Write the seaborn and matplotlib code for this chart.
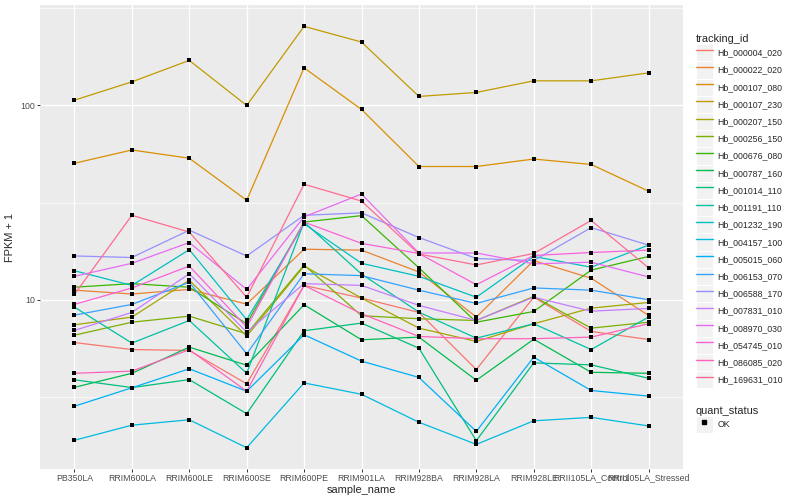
import pandas as pd
import matplotlib
matplotlib.use('Agg')
import matplotlib.pyplot as plt
import seaborn as sns
from matplotlib.lines import Line2D
from matplotlib.patches import Rectangle
from matplotlib.legend_handler import HandlerTuple
from matplotlib.ticker import FixedLocator, NullFormatter

# samples on the x axis
samples = ['PB350LA', 'RRIM600LA', 'RRIM600LE', 'RRIM600SE', 'RRIM600PE', 'RRIM901LA',
           'RRIM928BA', 'RRIM928LA', 'RRIM928LE', 'RRII105LA_Control', 'RRII105LA_Stressed']

tracking_ids = ['Hb_000004_020', 'Hb_000022_020', 'Hb_000107_080', 'Hb_000107_230',
                'Hb_000207_150', 'Hb_000256_150', 'Hb_000676_080', 'Hb_000787_160',
                'Hb_001014_110', 'Hb_001191_110', 'Hb_001232_190', 'Hb_004157_100',
                'Hb_005015_060', 'Hb_006153_070', 'Hb_006588_170', 'Hb_007831_010',
                'Hb_008970_030', 'Hb_054745_010', 'Hb_086085_020', 'Hb_169631_010']

# FPKM + 1 per gene, one value per sample
hb_000004_020 = [6.02, 5.54, 5.48, 3.69, 11.85, 10.2, 8.60, 4.37, 10.3, 6.87, 6.24]
hb_000022_020 = [11.2, 10.7, 11.3, 9.49, 18.2, 18.0, 13.9, 8.14, 15.9, 12.9, 8.30]
hb_000107_080 = [50.4, 59.0, 53.5, 32.5, 156.2, 95.4, 48.5, 48.5, 53.0, 49.7, 36.2]
hb_000107_230 = [106.5, 132.3, 170.6, 100.0, 255.4, 212.1, 111.3, 116.7, 133.9, 133.9, 147.2]
hb_000207_150 = [7.43, 8.14, 12.6, 6.49, 14.9, 10.2, 7.14, 6.10, 7.52, 9.05, 9.68]
hb_000256_150 = [6.57, 7.66, 8.23, 6.68, 15.1, 8.27, 7.98, 7.82, 10.4, 7.14, 7.66]
hb_000676_080 = [11.6, 12.1, 11.6, 7.52, 25.1, 27.1, 14.6, 7.66, 8.70, 14.2, 16.7]
hb_000787_160 = [3.54, 4.18, 5.70, 4.60, 9.42, 6.22, 6.42, 3.85, 6.26, 4.23, 4.18]
hb_001014_110 = [3.87, 3.53, 3.88, 2.59, 6.92, 7.58, 5.63, 1.88, 4.73, 4.62, 3.94]
hb_001191_110 = [9.16, 5.98, 7.82, 4.18, 25.1, 13.55, 8.63, 6.34, 7.52, 5.54, 8.14]
hb_001232_190 = [14.1, 11.85, 18.1, 7.89, 24.6, 15.4, 13.2, 10.3, 16.7, 14.7, 19.1]
hb_004157_100 = [1.89, 2.26, 2.41, 1.73, 3.73, 3.26, 2.34, 1.80, 2.38, 2.48, 2.24]
hb_005015_060 = [2.83, 3.52, 4.41, 3.38, 6.60, 4.83, 3.98, 2.10, 5.06, 3.41, 3.19]
hb_006153_070 = [8.33, 9.46, 12.3, 5.27, 13.6, 13.3, 11.2, 9.57, 11.5, 11.2, 10.0]
hb_006588_170 = [16.8, 16.5, 22.8, 16.8, 27.2, 28.0, 20.9, 16.3, 15.9, 23.5, 19.1]
hb_007831_010 = [6.95, 8.60, 13.6, 6.81, 12.1, 11.85, 9.35, 7.82, 10.3, 8.73, 9.02]
hb_008970_030 = [13.2, 15.4, 19.7, 11.3, 26.7, 35.0, 17.4, 17.4, 15.3, 15.6, 13.1]
hb_054745_010 = [9.46, 11.5, 14.9, 7.23, 25.1, 19.5, 17.3, 11.95, 16.9, 17.5, 18.0]
hb_086085_020 = [4.18, 4.29, 5.53, 3.38, 11.85, 8.47, 6.47, 6.30, 6.30, 6.42, 7.52]
hb_169631_010 = [10.65, 27.2, 22.3, 10.3, 39.3, 32.2, 17.2, 15.1, 17.3, 25.6, 14.6]

series = [hb_000004_020, hb_000022_020, hb_000107_080, hb_000107_230, hb_000207_150,
          hb_000256_150, hb_000676_080, hb_000787_160, hb_001014_110, hb_001191_110,
          hb_001232_190, hb_004157_100, hb_005015_060, hb_006153_070, hb_006588_170,
          hb_007831_010, hb_008970_030, hb_054745_010, hb_086085_020, hb_169631_010]

# ggplot default hue palette for 20 levels
colors = ['#F8766D', '#EA8331', '#D89000', '#C09B00', '#A3A500', '#7CAE00', '#39B600',
          '#00BB4E', '#00BF7D', '#00C1A3', '#00BFC4', '#00BAE0', '#00B0F6', '#35A2FF',
          '#9590FF', '#C77CFF', '#E76BF3', '#FA62DB', '#FF62BC', '#FF6C91']

rows = []
for tid, vals in zip(tracking_ids, series):
    for s, v in zip(samples, vals):
        rows.append({'tracking_id': tid, 'sample_name': s, 'fpkm': v, 'quant_status': 'OK'})
df = pd.DataFrame(rows)

sns.set_style('darkgrid', {'axes.facecolor': '#EBEBEB', 'grid.color': 'white'})
plt.rcParams['font.family'] = ['Liberation Sans', 'DejaVu Sans']

fig = plt.figure(figsize=(8, 5), dpi=100)
ax = fig.add_axes([0.05, 0.0624, 0.80375, 0.927])

sns.lineplot(data=df, x='sample_name', y='fpkm', hue='tracking_id', palette=colors,
             linewidth=0.9, legend=False, errorbar=None, sort=False, ax=ax)
sns.scatterplot(data=df, x='sample_name', y='fpkm', color='black', marker='s', s=8,
                linewidth=0, legend=False, ax=ax, zorder=3)

ax.set_yscale('log')
ax.set_xlim(-0.6, len(samples) - 0.4)
lo, hi = df['fpkm'].min(), df['fpkm'].max()
span = (hi / lo) ** 0.05
ax.set_ylim(lo / span, hi * span)

ax.set_yticks([10, 100])
ax.set_yticklabels(['10', '100'])
ax.yaxis.set_minor_locator(FixedLocator([10 ** 0.5, 10 ** 1.5, 10 ** 2.5]))
ax.yaxis.set_minor_formatter(NullFormatter())
ax.grid(which='major', color='white', linewidth=1.0)
ax.grid(which='minor', axis='y', color='white', linewidth=0.5)
ax.tick_params(which='major', length=2, width=0.7, color='#333333', labelsize=6.3,
               labelcolor='#4D4D4D', pad=1.5, bottom=True, left=True)
ax.tick_params(which='minor', length=0)
for sp in ax.spines.values():
    sp.set_visible(False)

ax.set_xlabel('sample_name', fontsize=7.9, labelpad=2)
ax.set_ylabel('FPKM + 1', fontsize=7.9, labelpad=4)

# legend keys: grey box with the line (or point) drawn on top, like ggplot
key_bg = dict(facecolor='#F2F2F2', edgecolor='white', linewidth=0.8)
leg_kw = dict(loc='upper left', frameon=False, fontsize=6.3, title_fontsize=7.9,
              handlelength=1.95, handleheight=2.65, labelspacing=0.0, handletextpad=0.5,
              borderpad=0.2, alignment='left',
              handler_map={tuple: HandlerTuple(ndivide=1, pad=0)})

handles1 = [(Rectangle((0, 0), 1, 1, **key_bg), Line2D([], [], color=c, lw=1)) for c in colors]
fig.legend(handles1, tracking_ids, title='tracking_id', bbox_to_anchor=(0.862, 0.944), **leg_kw)

handles2 = [(Rectangle((0, 0), 1, 1, **key_bg),
             Line2D([], [], color='black', marker='s', linestyle='none', markersize=2.5))]
fig.legend(handles2, ['OK'], title='quant_status', bbox_to_anchor=(0.862, 0.2), **leg_kw)

fig.savefig('out.png', dpi=100)
